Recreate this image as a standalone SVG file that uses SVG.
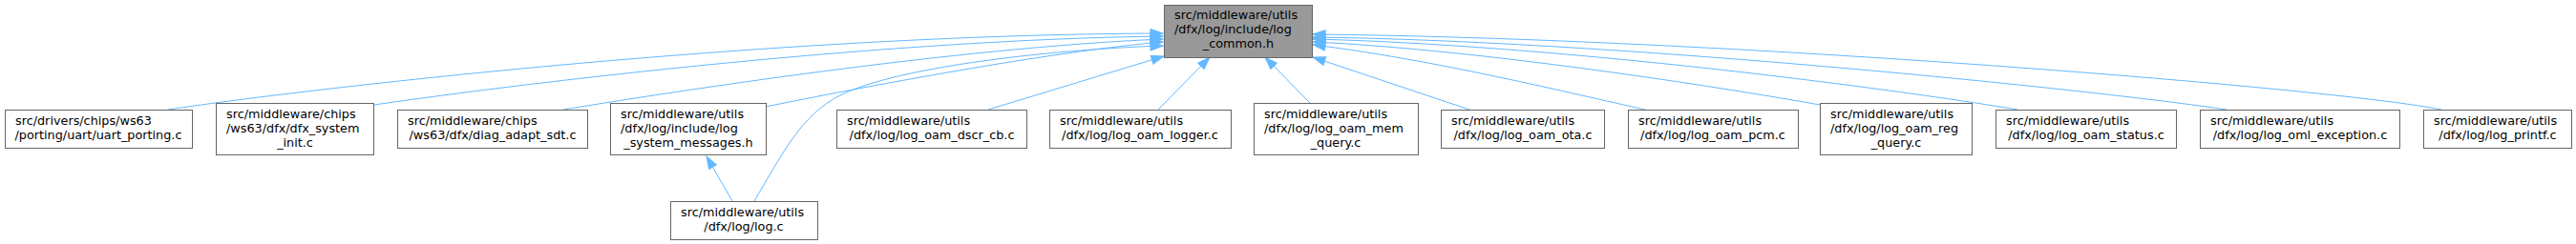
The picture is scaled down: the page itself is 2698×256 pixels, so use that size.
<svg xmlns="http://www.w3.org/2000/svg" width="2698" height="256" viewBox="0 0 2698 256">
<style>
.n rect{fill:#ffffff;stroke:#666666;stroke-width:1}
#main rect{fill:#999999;stroke:#666666}
text{font-family:"DejaVu Sans","Liberation Sans",sans-serif;font-size:12.8px;fill:#000000}
.c{text-anchor:middle}
#edges path{fill:none;stroke:#63b8ff;stroke-width:1;marker-end:url(#ah)}
</style>
<defs>
<marker id="ah" markerUnits="userSpaceOnUse" markerWidth="14" markerHeight="10" refX="13" refY="4.5" orient="auto" overflow="visible">
<path d="M0,0 L13,4.5 L0,9 Z" fill="#63b8ff" stroke="#63b8ff" stroke-width="1"/>
</marker>
</defs>
<rect width="2698" height="256" fill="#ffffff"/>
<g id="edges">
<path d="M176,115 C300,96 800,36 1218,35"/>
<path d="M392,110 C500,94 900,42 1218,38"/>
<path d="M590,115 C700,97 1000,50 1218,41"/>
<path d="M802,112 C900,92 1100,54 1218,44"/>
<path d="M790,211 C820,160 840,120 880,100 C940,70 1100,52 1218,48"/>
<path d="M1035,115 L1219,59"/>
<path d="M1213,115 L1267,60"/>
<path d="M1372,108 L1325,60"/>
<path d="M1539,115 L1375,60"/>
<path d="M1723,115 C1650,99 1500,62 1375,47"/>
<path d="M1906,110 C1800,91 1550,52 1375,44"/>
<path d="M2113,115 C2000,96 1650,48 1375,41"/>
<path d="M2332,115 C2200,95 1700,43 1375,39"/>
<path d="M2557,115 C2450,93 1800,40 1375,36"/>
<path d="M767,211 L740,164"/>
</g>
<g id="main" class="n"><rect x="1219.5" y="5.5" width="155" height="55"/>
<text x="1230" y="20">src/middleware/utils</text><text x="1230" y="35">/dfx/log/include/log</text><text class="c" x="1297" y="50">_common.h</text></g>
<g id="uart_porting" class="n"><rect x="5.5" y="115.5" width="196" height="40"/>
<text x="16" y="131">src/drivers/chips/ws63</text><text class="c" x="103" y="146">/porting/uart/uart_porting.c</text></g>
<g id="dfx_system_init" class="n"><rect x="226.5" y="108.5" width="165" height="54"/>
<text x="237" y="124">src/middleware/chips</text><text x="237" y="139">/ws63/dfx/dfx_system</text><text class="c" x="309" y="154">_init.c</text></g>
<g id="diag_adapt_sdt" class="n"><rect x="416.5" y="115.5" width="199" height="40"/>
<text x="427" y="131">src/middleware/chips</text><text class="c" x="516" y="146">/ws63/dfx/diag_adapt_sdt.c</text></g>
<g id="log_system_messages" class="n"><rect x="639.5" y="108.5" width="163" height="54"/>
<text x="650" y="124">src/middleware/utils</text><text x="650" y="139">/dfx/log/include/log</text><text class="c" x="721" y="154">_system_messages.h</text></g>
<g id="log_c" class="n"><rect x="702.5" y="211.5" width="154" height="40"/>
<text x="713" y="227">src/middleware/utils</text><text class="c" x="779" y="242">/dfx/log/log.c</text></g>
<g id="log_oam_dscr_cb" class="n"><rect x="876.5" y="115.5" width="199" height="40"/>
<text x="887" y="131">src/middleware/utils</text><text class="c" x="976" y="146">/dfx/log/log_oam_dscr_cb.c</text></g>
<g id="log_oam_logger" class="n"><rect x="1099.5" y="115.5" width="190" height="40"/>
<text x="1110" y="131">src/middleware/utils</text><text class="c" x="1194" y="146">/dfx/log/log_oam_logger.c</text></g>
<g id="log_oam_mem_query" class="n"><rect x="1313.5" y="108.5" width="172" height="54"/>
<text x="1324" y="124">src/middleware/utils</text><text x="1324" y="139">/dfx/log/log_oam_mem</text><text class="c" x="1399" y="154">_query.c</text></g>
<g id="log_oam_ota" class="n"><rect x="1509.5" y="115.5" width="171" height="40"/>
<text x="1520" y="131">src/middleware/utils</text><text class="c" x="1595" y="146">/dfx/log/log_oam_ota.c</text></g>
<g id="log_oam_pcm" class="n"><rect x="1705.5" y="115.5" width="178" height="40"/>
<text x="1716" y="131">src/middleware/utils</text><text class="c" x="1794" y="146">/dfx/log/log_oam_pcm.c</text></g>
<g id="log_oam_reg_query" class="n"><rect x="1906.5" y="108.5" width="159" height="54"/>
<text x="1917" y="124">src/middleware/utils</text><text x="1917" y="139">/dfx/log/log_oam_reg</text><text class="c" x="1986" y="154">_query.c</text></g>
<g id="log_oam_status" class="n"><rect x="2090.5" y="115.5" width="189" height="40"/>
<text x="2101" y="131">src/middleware/utils</text><text class="c" x="2185" y="146">/dfx/log/log_oam_status.c</text></g>
<g id="log_oml_exception" class="n"><rect x="2304.5" y="115.5" width="209" height="40"/>
<text x="2315" y="131">src/middleware/utils</text><text class="c" x="2409" y="146">/dfx/log/log_oml_exception.c</text></g>
<g id="log_printf" class="n"><rect x="2538.5" y="115.5" width="155" height="40"/>
<text x="2549" y="131">src/middleware/utils</text><text class="c" x="2616" y="146">/dfx/log/log_printf.c</text></g>
</svg>
